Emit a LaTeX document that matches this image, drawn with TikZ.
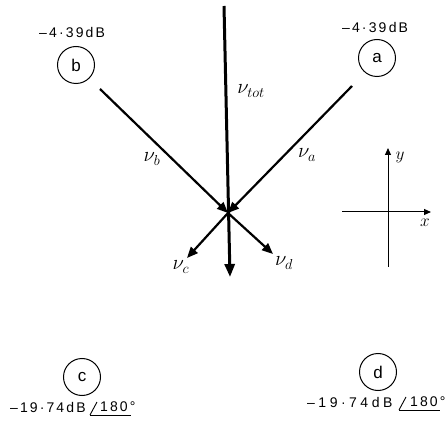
\documentclass[tikz,border=0pt]{standalone}
\usepackage{fontspec}
\setmainfont{Liberation Sans}
\usetikzlibrary{arrows.meta}
\begin{document}
\begin{tikzpicture}[x=1pt,y=-1pt,
  vec/.style={line width=2.2pt,-{Triangle[length=11pt,width=9pt]}},
  port/.style={circle,draw,line width=1pt,minimum size=37pt,inner sep=0pt,font=\fontsize{17}{17}\selectfont},
  lab/.style={font=\fontsize{14}{14}\selectfont\addfontfeature{LetterSpace=15},inner sep=0pt},
  labw/.style={font=\fontsize{14}{14}\selectfont\addfontfeature{LetterSpace=25},inner sep=0pt},
  nu/.style={font=\fontsize{20}{20}\selectfont,inner sep=0pt},
  ang/.style={line width=0.9pt},
  ax/.style={line width=1pt,-{Triangle[length=7pt,width=6pt]}}]
\useasboundingbox (0,0) rectangle (445,425);
% ports
\node[port] (b) at (76,65) {b};
\node[port] (a) at (377,58) {a};
\node[port] (c) at (82,377) {c};
\node[port] (d) at (378,372) {d};
% dB labels
\node[lab] (lb) at (72,32) {–\,4·39dB};
\node[lab] (la) at (375,27) {–\,4·39\,dB};
\node[lab,anchor=west] (lc) at (10,407) {–19·74dB};
\node[lab,anchor=west] (lca) at (100,407) {180°};
\coordinate (lcu) at (90,415);
\draw[ang] (lcu) -- ++(7,-13);
\draw[ang] (lcu) -- ++(41,0);
\node[labw,anchor=west] (ld) at (307,402) {–19·74dB};
\node[lab,anchor=west] (lda) at (410,402) {180°};
\coordinate (ldu) at (399,410);
\draw[ang] (ldu) -- ++(7,-13);
\draw[ang] (ldu) -- ++(41,0);
% vectors
\coordinate (o) at (228,213);
\coordinate (ttop) at (224,6);
\coordinate (tbot) at (230,277);
\coordinate (bs) at (100,89);
\coordinate (as) at (352,86);
\coordinate (ce) at (187,258);
\coordinate (de) at (273,254);
\draw[line width=3pt,-{Triangle[length=13pt,width=10pt]}] (ttop) -- (tbot);
\draw[vec] (bs) -- (o);
\draw[vec] (as) -- (o);
\draw[vec] (o) -- (ce);
\draw[vec] (o) -- (de);
\node[nu] (ntot) at (251,91) {$\nu_{tot}$};
\node[nu] (nb) at (152,159) {$\nu_b$};
\node[nu] (na) at (307,155) {$\nu_a$};
\node[nu] (nc) at (181,267) {$\nu_c$};
\node[nu] (nd) at (284,263) {$\nu_d$};
% axes
\coordinate (xs) at (342,212);
\coordinate (xe) at (431,212);
\coordinate (ys) at (388,267);
\coordinate (ye) at (388,148);
\draw[ax] (xs) -- (xe);
\draw[ax] (ys) -- (ye);
\node[nu,font=\fontsize{16}{16}\selectfont] (yl) at (400,157) {$y$};
\node[nu,font=\fontsize{16}{16}\selectfont] (xl) at (425,223) {$x$};
\end{tikzpicture}
\end{document}
